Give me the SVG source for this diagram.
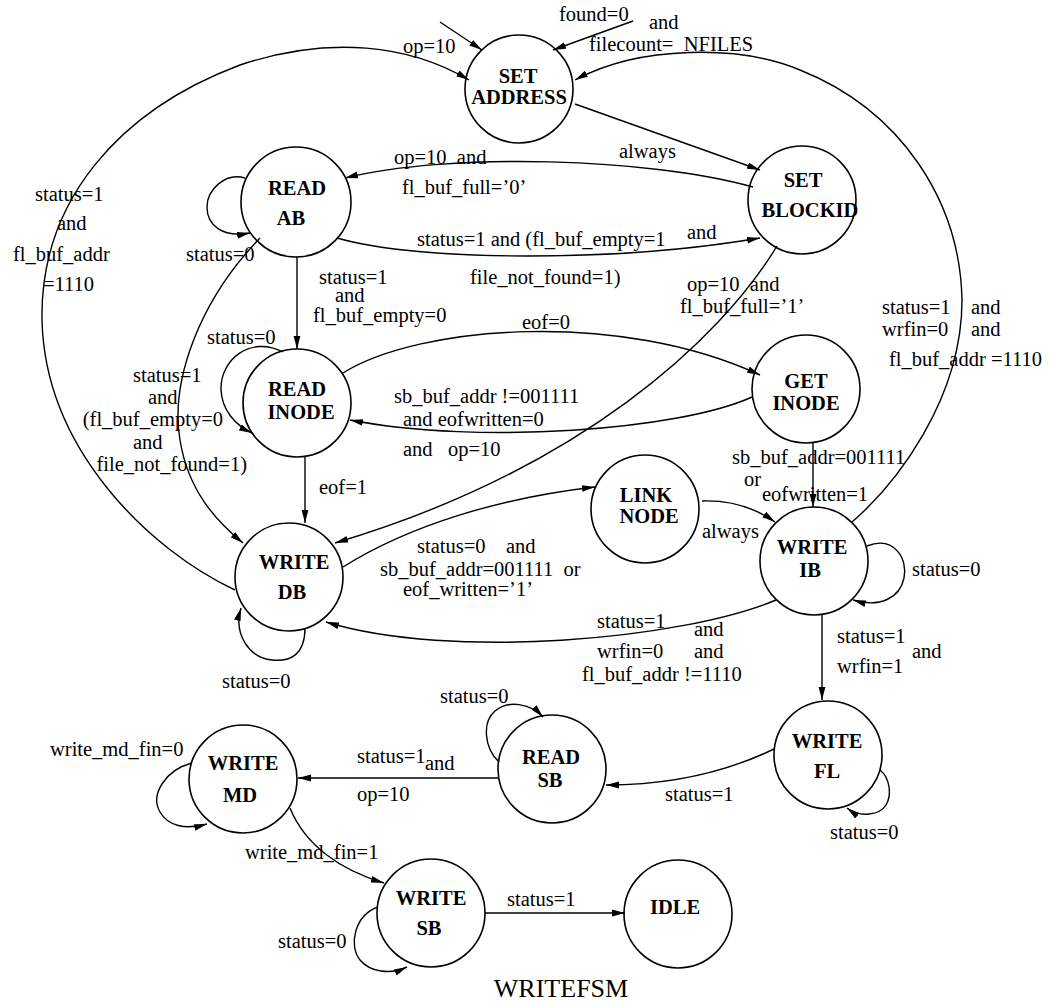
<svg xmlns="http://www.w3.org/2000/svg" width="1052" height="1008" viewBox="0 0 1052 1008">
  <defs>
    <marker id="ah" viewBox="0 0 13 8" refX="13" refY="4" markerWidth="13" markerHeight="8" orient="auto" markerUnits="userSpaceOnUse">
      <path d="M0,0.6 L13,4 L0,7.4 z" fill="#000"/>
    </marker>
    <style>
      .st { fill: none; stroke: #000; stroke-width: 1.6; }
      .e  { fill: none; stroke: #000; stroke-width: 1.4; marker-end: url(#ah); }
      .nl { font-family: "Liberation Serif", "Times New Roman", serif; font-size: 20.5px; font-weight: bold; text-anchor: middle; fill: #000; }
      .lb { font-family: "Liberation Serif", "Times New Roman", serif; font-size: 20.5px; fill: #000; white-space: pre; }
      .end { text-anchor: end; }
      .title { font-family: "Liberation Serif", "Times New Roman", serif; font-size: 26px; text-anchor: middle; fill: #000; }
    </style>
  </defs>

  <rect width="1052" height="1008" fill="#fff"/>

  <!-- states -->
  <g id="set_address">
    <circle class="st" cx="519" cy="89" r="54"/>
    <text class="nl" x="518" y="83">SET</text>
    <text class="nl" x="519" y="104">ADDRESS</text>
  </g>
  <g id="read_ab">
    <circle class="st" cx="296" cy="202" r="55"/>
    <text class="nl" x="297" y="195">READ</text>
    <text class="nl" x="291" y="225">AB</text>
  </g>
  <g id="set_blockid">
    <circle class="st" cx="802" cy="200" r="54"/>
    <text class="nl" x="803" y="187">SET</text>
    <text class="nl" x="810" y="217">BLOCKID</text>
  </g>
  <g id="read_inode">
    <circle class="st" cx="297" cy="403" r="54"/>
    <text class="nl" x="297" y="396">READ</text>
    <text class="nl" x="301" y="419">INODE</text>
  </g>
  <g id="get_inode">
    <circle class="st" cx="806" cy="389" r="54"/>
    <text class="nl" x="806" y="388">GET</text>
    <text class="nl" x="806" y="410">INODE</text>
  </g>
  <g id="link_node">
    <circle class="st" cx="645" cy="509" r="54"/>
    <text class="nl" x="646" y="502">LINK</text>
    <text class="nl" x="649" y="523">NODE</text>
  </g>
  <g id="write_db">
    <circle class="st" cx="289" cy="577" r="54"/>
    <text class="nl" x="294" y="569">WRITE</text>
    <text class="nl" x="292" y="599">DB</text>
  </g>
  <g id="write_ib">
    <circle class="st" cx="814" cy="561" r="54"/>
    <text class="nl" x="812" y="554">WRITE</text>
    <text class="nl" x="810" y="577">IB</text>
  </g>
  <g id="write_fl">
    <circle class="st" cx="828" cy="755" r="54"/>
    <text class="nl" x="827" y="748">WRITE</text>
    <text class="nl" x="827" y="778">FL</text>
  </g>
  <g id="read_sb">
    <circle class="st" cx="552" cy="769" r="54"/>
    <text class="nl" x="551" y="764">READ</text>
    <text class="nl" x="550" y="787">SB</text>
  </g>
  <g id="write_md">
    <circle class="st" cx="243" cy="779" r="54"/>
    <text class="nl" x="243" y="770">WRITE</text>
    <text class="nl" x="240" y="802">MD</text>
  </g>
  <g id="write_sb">
    <circle class="st" cx="431" cy="913" r="54"/>
    <text class="nl" x="431" y="905">WRITE</text>
    <text class="nl" x="429" y="935">SB</text>
  </g>
  <g id="idle">
    <circle class="st" cx="678" cy="914" r="54"/>
    <text class="nl" x="675" y="914">IDLE</text>
  </g>

  <!-- transitions -->
  <g id="connectors">
    <path class="e" d="M440,22 L482,50"/>
    <path class="e" d="M633,21 L553,50"/>
    <path class="e" d="M852,522 C895,485 962,400 962,300 C960,200 900,110 800,70 C740,45 640,45 575,80"/>
    <path class="e" d="M575,104 L760,170"/>
    <path class="e" d="M753,187 C650,158 450,152 345,178"/>
    <path class="e" d="M337,238 C420,262 620,262 760,238"/>
    <path class="e" d="M245,178 C225,172 207,190 207,207 C207,225 222,238 250,233"/>
    <path class="e" d="M297,257 L297,349"/>
    <path class="e" d="M260,238 C200,300 170,380 180,440 C188,490 215,520 243,543"/>
    <path class="e" d="M283,352 C250,335 220,360 221,390 C222,410 235,425 252,433"/>
    <path class="e" d="M343,373 C420,325 620,310 760,375"/>
    <path class="e" d="M752,397 C680,430 480,445 350,420"/>
    <path class="e" d="M777,246 C720,340 580,470 335,543"/>
    <path class="e" d="M305,457 L305,523"/>
    <path class="e" d="M235,590 C150,550 45,450 42,320 C40,200 120,110 240,65 C330,35 410,45 469,80"/>
    <path class="e" d="M343,567 C410,525 500,498 595,487"/>
    <path class="e" d="M702,501 C730,500 755,508 775,522"/>
    <path class="e" d="M813,442 L813,507"/>
    <path class="e" d="M867,546 C895,535 908,560 904,578 C900,598 880,608 853,600"/>
    <path class="e" d="M822,615 L822,700"/>
    <path class="e" d="M776,600 C680,640 450,660 326,622"/>
    <path class="e" d="M305,628 C305,655 290,662 272,660 C250,658 233,635 241,608"/>
    <path class="e" d="M880,770 C890,778 892,795 886,805 C880,815 860,818 847,808"/>
    <path class="e" d="M774,749 C720,775 660,785 606,785"/>
    <path class="e" d="M499,762 C484,748 482,722 495,711 C508,700 530,703 543,717"/>
    <path class="e" d="M498,778 L298,778"/>
    <path class="e" d="M192,763 C165,770 150,795 160,812 C168,826 185,830 207,824"/>
    <path class="e" d="M290,808 C305,845 340,870 384,883"/>
    <path class="e" d="M378,907 C355,915 348,945 360,960 C370,972 390,975 407,967"/>
    <path class="e" d="M485,913 L625,913"/>
  </g>

  <!-- transition conditions -->
  <g id="labels">
    <text class="lb" x="559" y="21">found=0</text>
    <text class="lb" x="649" y="29">and</text>
    <text class="lb" x="589" y="51">filecount=  NFILES</text>
    <text class="lb" x="403" y="53">op=10</text>
    <text class="lb" x="619" y="158">always</text>
    <text class="lb" x="394" y="164">op=10  and</text>
    <text class="lb" x="402" y="194">fl_buf_full=’0’</text>
    <text class="lb" x="417" y="246">status=1 and (fl_buf_empty=1</text>
    <text class="lb" x="687" y="239">and</text>
    <text class="lb" x="470" y="284">file_not_found=1)</text>
    <text class="lb" x="186" y="261">status=0</text>
    <text class="lb" x="35" y="201">status=1</text>
    <text class="lb" x="57" y="230">and</text>
    <text class="lb" x="13" y="261">fl_buf_addr</text>
    <text class="lb" x="43" y="291">=1110</text>
    <text class="lb" x="319" y="284">status=1</text>
    <text class="lb" x="335" y="302">and</text>
    <text class="lb" x="313" y="322">fl_buf_empty=0</text>
    <text class="lb" x="687" y="291">op=10  and</text>
    <text class="lb" x="680" y="313">fl_buf_full=’1’</text>
    <text class="lb" x="522" y="329">eof=0</text>
    <text class="lb" x="882" y="314">status=1</text>
    <text class="lb" x="971" y="314">and</text>
    <text class="lb" x="882" y="336">wrfin=0</text>
    <text class="lb" x="971" y="336">and</text>
    <text class="lb" x="889" y="366">fl_buf_addr =1110</text>
    <text class="lb" x="207" y="344">status=0</text>
    <text class="lb" x="133" y="382">status=1</text>
    <text class="lb" x="148" y="404">and</text>
    <text class="lb end" x="223" y="426">(fl_buf_empty=0</text>
    <text class="lb" x="133" y="449">and</text>
    <text class="lb end" x="247" y="471">file_not_found=1)</text>
    <text class="lb" x="394" y="403">sb_buf_addr !=001111</text>
    <text class="lb" x="403" y="426">and eofwritten=0</text>
    <text class="lb" x="403" y="456">and   op=10</text>
    <text class="lb" x="319" y="494">eof=1</text>
    <text class="lb" x="732" y="464">sb_buf_addr=001111</text>
    <text class="lb" x="744" y="486">or</text>
    <text class="lb" x="762" y="501">eofwritten=1</text>
    <text class="lb" x="702" y="538">always</text>
    <text class="lb" x="417" y="553">status=0    and</text>
    <text class="lb" x="380" y="576">sb_buf_addr=001111  or</text>
    <text class="lb" x="403" y="596">eof_written=’1’</text>
    <text class="lb" x="912" y="576">status=0</text>
    <text class="lb" x="597" y="628">status=1</text>
    <text class="lb" x="694" y="636">and</text>
    <text class="lb" x="597" y="658">wrfin=0</text>
    <text class="lb" x="694" y="658">and</text>
    <text class="lb" x="582" y="681">fl_buf_addr !=1110</text>
    <text class="lb" x="837" y="643">status=1</text>
    <text class="lb" x="912" y="658">and</text>
    <text class="lb" x="837" y="673">wrfin=1</text>
    <text class="lb" x="222" y="688">status=0</text>
    <text class="lb" x="440" y="703">status=0</text>
    <text class="lb" x="50" y="756">write_md_fin=0</text>
    <text class="lb" x="357" y="763">status=1</text>
    <text class="lb" x="425" y="770">and</text>
    <text class="lb" x="357" y="801">op=10</text>
    <text class="lb" x="665" y="801">status=1</text>
    <text class="lb" x="830" y="839">status=0</text>
    <text class="lb" x="245" y="859">write_md_fin=1</text>
    <text class="lb" x="507" y="906">status=1</text>
    <text class="lb" x="278" y="948">status=0</text>
  </g>

  <text class="title" x="561" y="997">WRITEFSM</text>
</svg>
